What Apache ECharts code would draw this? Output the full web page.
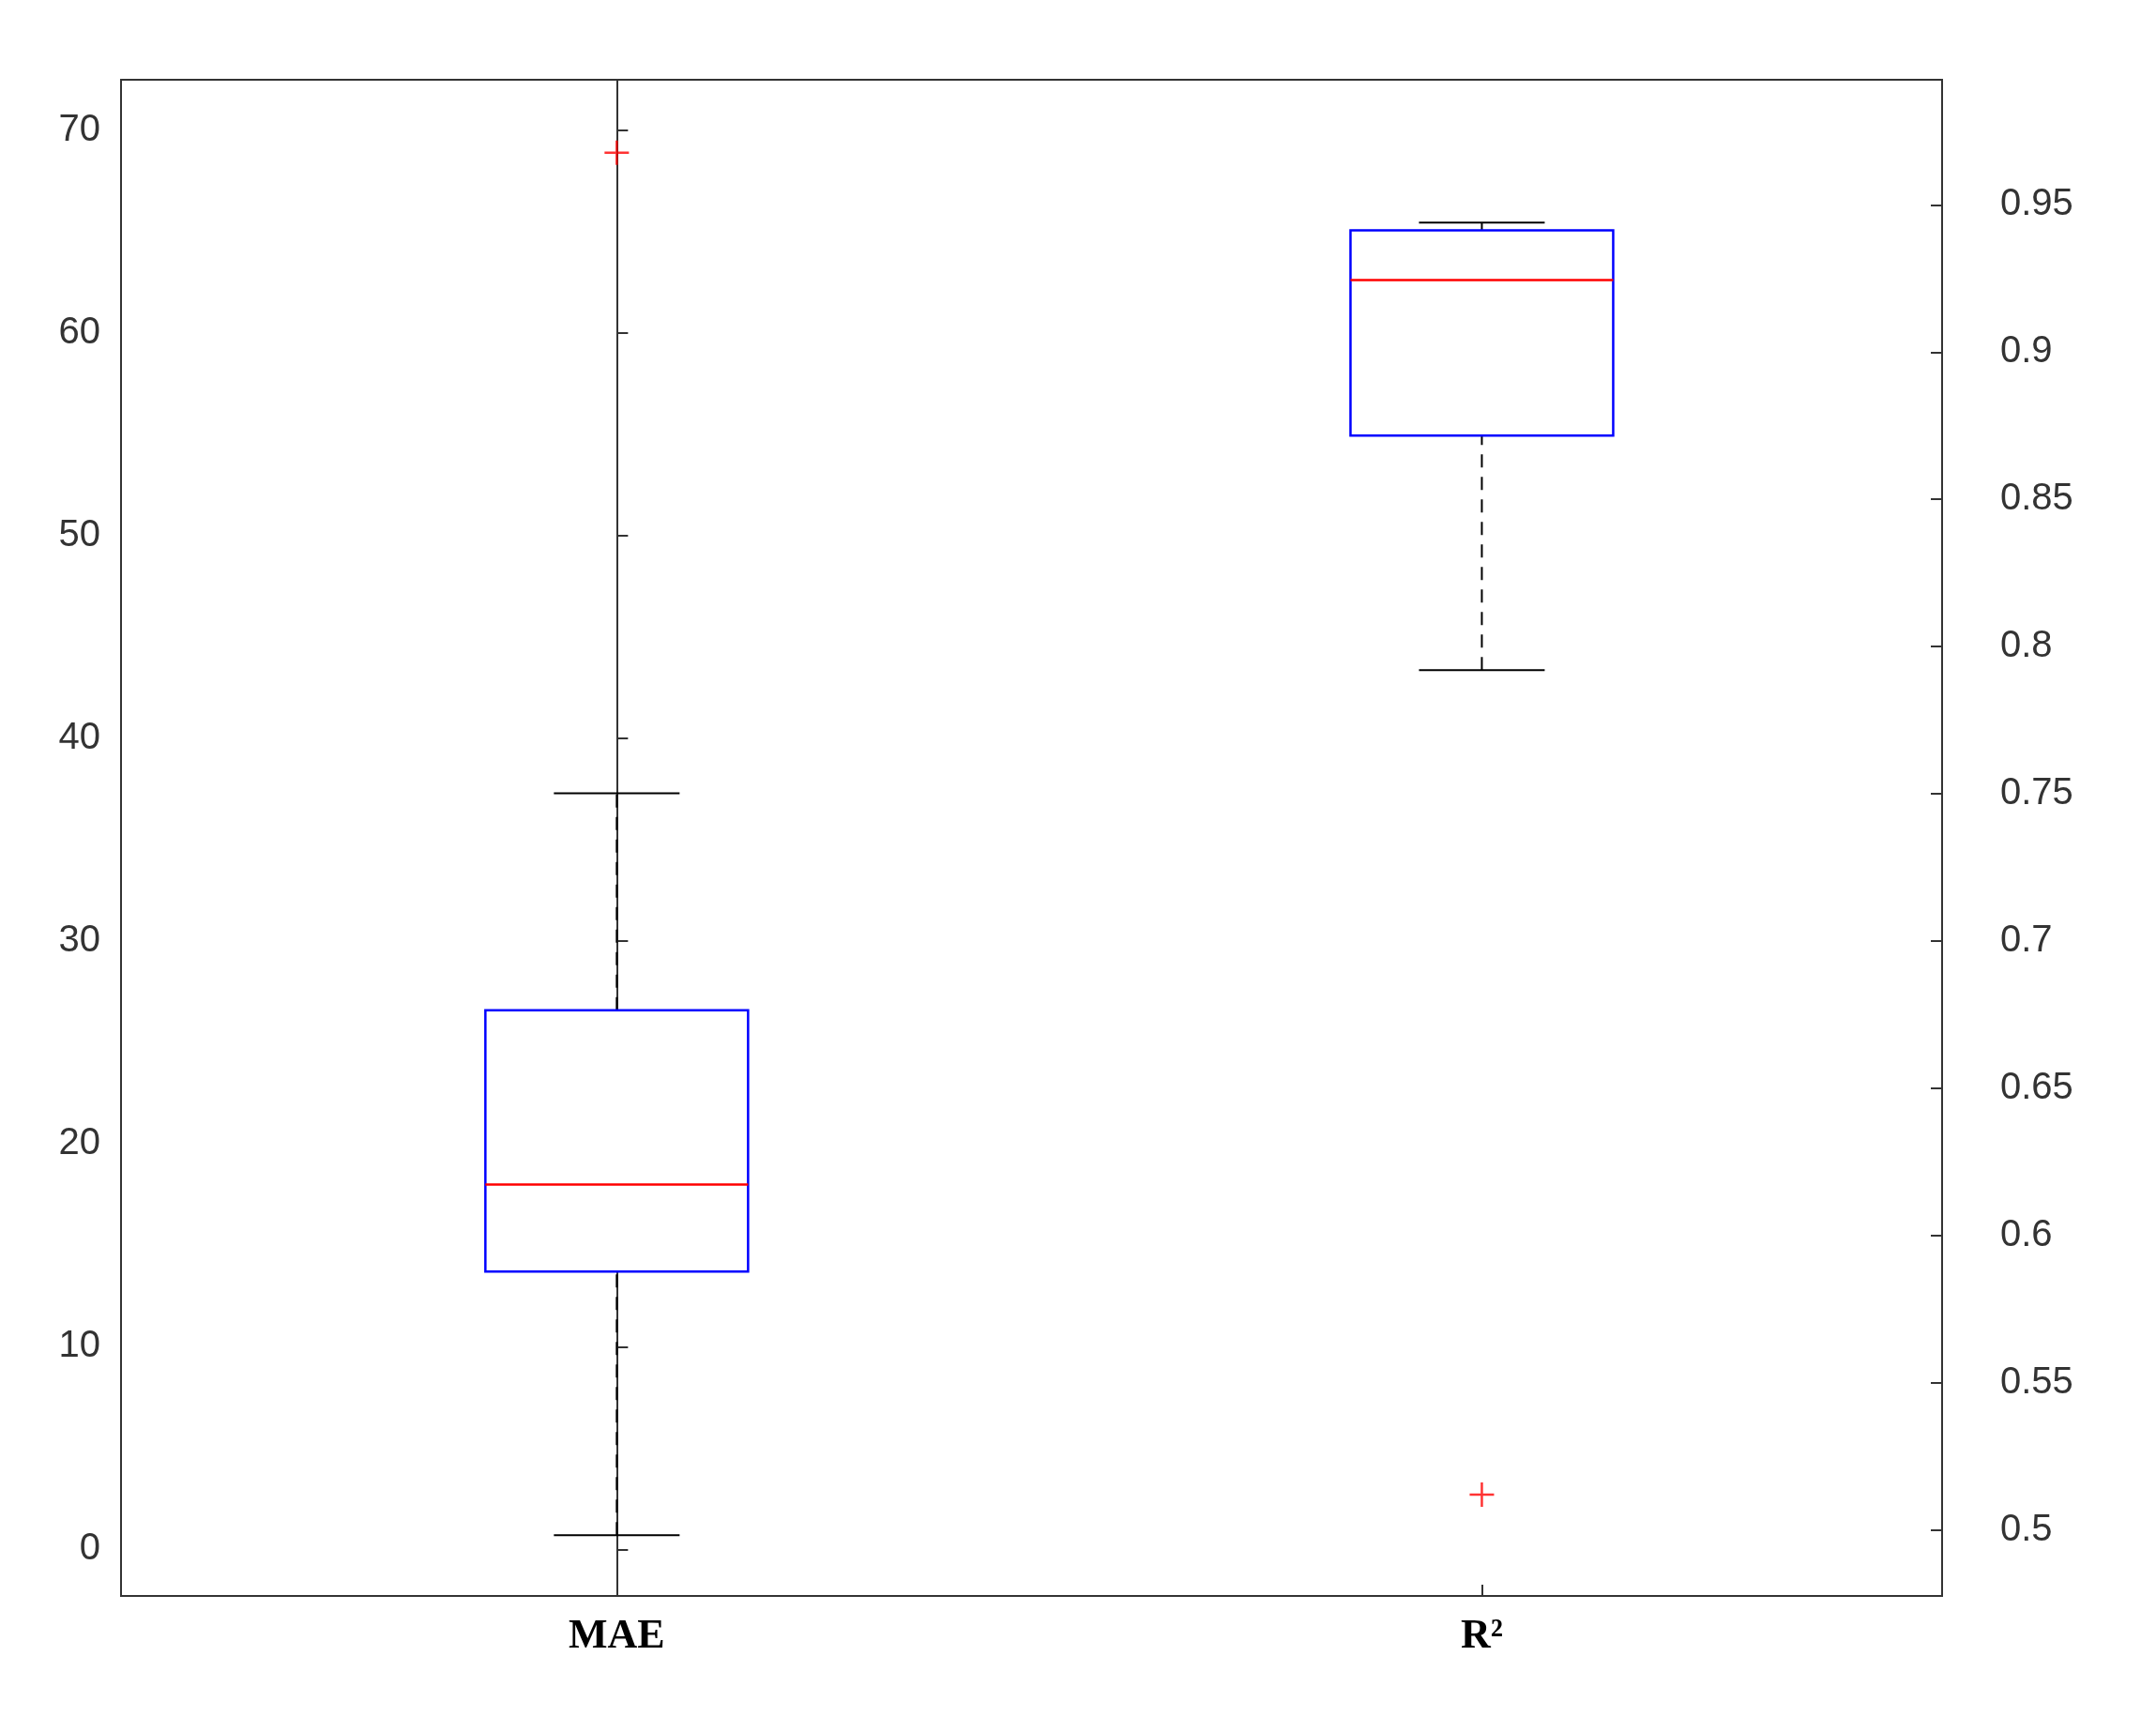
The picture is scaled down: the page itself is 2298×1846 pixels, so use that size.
<!DOCTYPE html>
<html>
<head>
<meta charset="utf-8">
<script src="https://cdn.jsdelivr.net/npm/echarts@6/dist/echarts.min.js"></script>
<style>html,body{margin:0;padding:0;background:#fff}#chart{width:2298px;height:1846px}</style>
</head>
<body>
<div id="chart"></div>
<script>
var categories = ['MAE', 'R²'];
// [category index, low whisker, Q1, median, Q3, high whisker]
var maeBox = [0, 0.7, 13.7, 18.0, 26.6, 37.3];
var r2Box = [1, 0.792, 0.8717, 0.9245, 0.9414, 0.944];
var maeOutliers = [[0, 68.9]];
var r2Outliers = [[1, 0.512]];
var leftTicks = [0, 10, 20, 30, 40, 50, 60, 70];
var rightTicks = [0.5, 0.55, 0.6, 0.65, 0.7, 0.75, 0.8, 0.85, 0.9, 0.95];
var catTicks = [0, 1];

function renderBox(params, api){
	var x = api.value(0);
	var pLow = api.coord([x, api.value(1)]);
	var pQ1 = api.coord([x, api.value(2)]);
	var pMed = api.coord([x, api.value(3)]);
	var pQ3 = api.coord([x, api.value(4)]);
	var pHigh = api.coord([x, api.value(5)]);
	var cx = pLow[0], hw = 140, cw = 67;
	var dash = {stroke:'#000', lineWidth:2, lineDash:[14, 10]};
	var solid = {stroke:'#000', lineWidth:2};
	return {type:'group', children:[
		{type:'line', shape:{x1:cx, y1:pLow[1], x2:cx, y2:pQ1[1]}, style:dash},
		{type:'line', shape:{x1:cx, y1:pQ3[1], x2:cx, y2:pHigh[1]}, style:dash},
		{type:'line', shape:{x1:cx-cw, y1:pLow[1], x2:cx+cw, y2:pLow[1]}, style:solid},
		{type:'line', shape:{x1:cx-cw, y1:pHigh[1], x2:cx+cw, y2:pHigh[1]}, style:solid},
		{type:'rect', shape:{x:cx-hw, y:pQ3[1], width:hw*2, height:pQ1[1]-pQ3[1]}, style:{fill:'#fff', stroke:'#0000ff', lineWidth:2.5}},
		{type:'line', shape:{x1:cx-hw, y1:pMed[1], x2:cx+hw, y2:pMed[1]}, style:{stroke:'#ff0000', lineWidth:2.5}}
	]};
}

var plus = 'path://M0,10L20,10M10,0L10,20';
var labelStyle = {color:'#333', fontSize:40, fontFamily:'Liberation Sans'};

var myChart = echarts.init(document.getElementById('chart'));
var option = {
	animation:false,
	grid:{left:129, right:228, top:85, bottom:145, show:true, borderColor:'#333', borderWidth:2},
	xAxis:{
		type:'value', min:-0.573, max:1.532,
		axisLine:{onZero:false, lineStyle:{color:'#333', width:2}},
		axisTick:{inside:true, length:12, customValues:catTicks, lineStyle:{color:'#333', width:2}},
		axisLabel:{customValues:catTicks, formatter:function(v){return categories[Math.round(v)];},
			color:'#000', fontSize:44, fontWeight:'bold', fontFamily:'Liberation Serif', margin:22},
		splitLine:{show:false}
	},
	yAxis:[{
		type:'value', min:-2.3, max:72.5,
		axisLine:{show:true, lineStyle:{color:'#333', width:2}},
		axisTick:{show:true, inside:true, length:12, customValues:leftTicks, lineStyle:{color:'#333', width:2}},
		axisLabel:Object.assign({customValues:leftTicks, margin:22}, labelStyle),
		splitLine:{show:false}
	},{
		type:'value', min:0.4776, max:0.9925, position:'right',
		axisLine:{show:true, lineStyle:{color:'#333', width:2}},
		axisTick:{show:true, inside:true, length:12, customValues:rightTicks, lineStyle:{color:'#333', width:2}},
		axisLabel:Object.assign({customValues:rightTicks, margin:62}, labelStyle),
		splitLine:{show:false}
	}],
	series:[
		{type:'custom', yAxisIndex:0, renderItem:renderBox, data:[maeBox], z:2},
		{type:'custom', yAxisIndex:1, renderItem:renderBox, data:[r2Box], z:2},
		{type:'scatter', yAxisIndex:0, data:maeOutliers, symbol:plus, symbolSize:26,
			itemStyle:{color:'none', borderColor:'#ff0000', borderWidth:2.5}, z:3},
		{type:'scatter', yAxisIndex:1, data:r2Outliers, symbol:plus, symbolSize:26,
			itemStyle:{color:'none', borderColor:'#ff0000', borderWidth:2.5}, z:3}
	]
};
myChart.setOption(option);
</script>
</body>
</html>
